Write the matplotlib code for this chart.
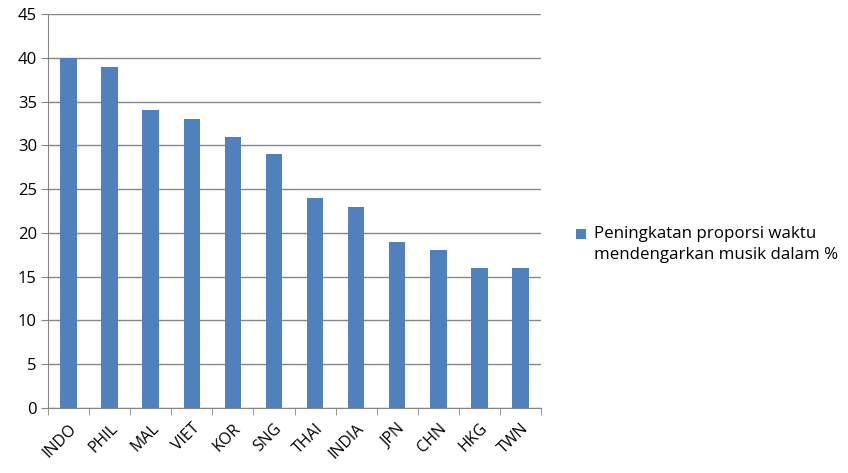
import matplotlib
matplotlib.use("Agg")
import matplotlib.pyplot as plt
from matplotlib.patches import Rectangle
from matplotlib.container import BarContainer
from matplotlib.legend_handler import HandlerPatch
import numpy as np

countries = ["INDO", "PHIL", "MAL", "VIET", "KOR", "SNG", "THAI", "INDIA", "JPN", "CHN", "HKG", "TWN"]
values = [40, 39, 34, 33, 31, 29, 24, 23, 19, 18, 16, 16]
series_name = "Peningkatan proporsi waktu\nmendengarkan musik dalam %"
yticks = [0, 5, 10, 15, 20, 25, 30, 35, 40, 45]

bar_color = "#4F81BD"
grid_color = "#868686"

plt.rcParams["font.family"] = ["Open Sans", "DejaVu Sans"]

fig = plt.figure(figsize=(8.48, 4.73), dpi=100)
ax = fig.add_axes([0.0566, 0.1374, 0.5814, 0.833])

x = np.arange(len(countries))
ax.bar(x, values, width=0.4, color=bar_color, zorder=3, label=series_name)

ax.set_xlim(-0.5, len(countries) - 0.5)
ax.set_ylim(0, 45)
ax.set_yticks(yticks)
ax.yaxis.grid(True, color=grid_color, linewidth=1.0, zorder=0)

for side in ["top", "right"]:
    ax.spines[side].set_visible(False)
ax.spines["left"].set_color(grid_color)
ax.spines["bottom"].set_color(grid_color)

# category labels sit at bar centres; tick marks sit on the category boundaries
ax.set_xticks(x)
ax.set_xticklabels(countries, rotation=45, ha="right", rotation_mode="anchor", fontsize=11.5)
ax.tick_params(axis="x", which="major", length=0, pad=9)
ax.set_xticks(np.arange(-0.5, len(countries), 1.0), minor=True)
ax.tick_params(axis="x", which="minor", length=5, color=grid_color, direction="out")
ax.tick_params(axis="y", length=5, color=grid_color, labelsize=12, pad=3)


def top_aligned_square(legend, orig_handle, xdescent, ydescent, width, height, fontsize):
    # keep the legend key level with the first line of a two-line label
    return Rectangle((-xdescent, -ydescent + 7.5), width, height)


def copy_bar_style(legend_patch, orig_handle):
    legend_patch.update_from(orig_handle.patches[0])


leg = ax.legend(loc="center left", bbox_to_anchor=(1.04, 0.415), frameon=False,
                fontsize=12.2, handlelength=0.6, handleheight=0.6, handletextpad=0.45,
                handler_map={BarContainer: HandlerPatch(patch_func=top_aligned_square,
                                                        update_func=copy_bar_style)})
for t in leg.get_texts():
    t.set_linespacing(1.45)

fig.savefig("out.png", dpi=100)
